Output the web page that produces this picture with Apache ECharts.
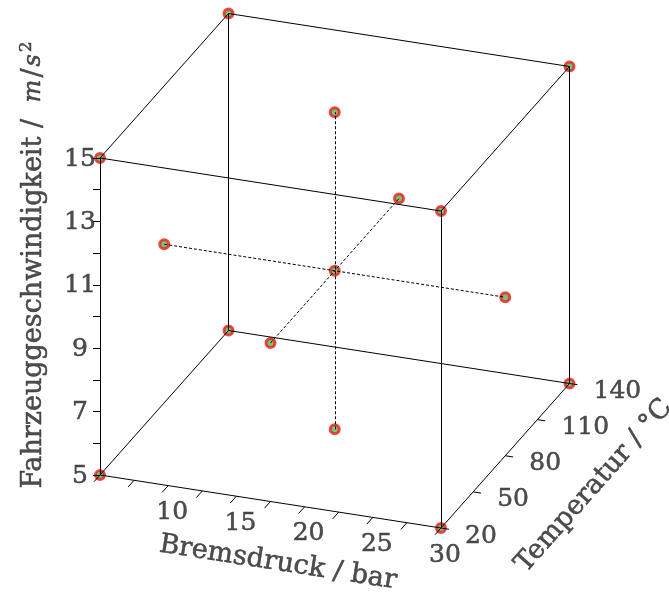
<!DOCTYPE html>
<html>
<head>
<meta charset="utf-8">
<script src="https://cdn.jsdelivr.net/npm/echarts@6/dist/echarts.min.js"></script>
<style>
  html, body { margin: 0; padding: 0; background: #fff; }
  #chart { width: 669px; height: 597px; }
</style>
</head>
<body>
<div id="chart"></div>
<script>
// Face-centred central composite design: brake pressure × temperature × acceleration
const pressureRange = [5, 30];        // Bremsdruck / bar
const temperatureRange = [20, 140];   // Temperatur / °C
const accelRange = [5, 15];           // Fahrzeuggeschwindigkeit / m/s²

const pressureTicks = [5, 7.5, 10, 12.5, 15, 17.5, 20, 22.5, 25, 27.5, 30];
const pressureLabels = [10, 15, 20, 25, 30];
const temperatureTicks = [20, 50, 80, 110, 140];
const temperatureLabels = [20, 50, 80, 110, 140];
const accelTicks = [5, 6, 7, 8, 9, 10, 11, 12, 13, 14, 15];
const accelLabels = [5, 7, 9, 11, 13, 15];

// design points [pressure, temperature, acceleration]
const cornerPoints = [
  [5, 20, 5], [30, 20, 5], [30, 140, 5], [5, 140, 5],
  [5, 20, 15], [30, 20, 15], [30, 140, 15], [5, 140, 15]
];
const axialPoints = [
  [5, 80, 10], [30, 80, 10],
  [17.5, 20, 10], [17.5, 140, 10],
  [17.5, 80, 5], [17.5, 80, 15]
];
const centerPoints = [[17.5, 80, 10]];

// ---- oblique projection of the 3-D box onto the page plane ----
const W = 669, H = 597;
const view = {
  origin: [100, 475],                 // screen position of (pmin, Tmin, amin)
  ep: [341 / 25, 53 / 25],            // screen step per bar
  eT: [128.5 / 120, -144.5 / 120],    // screen step per °C
  ea: [0, -317 / 10]                  // screen step per m/s²
};
function project(p) {
  const dp = p[0] - pressureRange[0];
  const dT = p[1] - temperatureRange[0];
  const da = p[2] - accelRange[0];
  return [
    view.origin[0] + dp * view.ep[0] + dT * view.eT[0] + da * view.ea[0],
    view.origin[1] + dp * view.ep[1] + dT * view.eT[1] + da * view.ea[1]
  ];
}
function unit(v) { const l = Math.hypot(v[0], v[1]); return [v[0] / l, v[1] / l]; }

// cube edges: pairs of corners that differ in exactly one coordinate
const edges = [];
for (let i = 0; i < cornerPoints.length; i++) {
  for (let j = i + 1; j < cornerPoints.length; j++) {
    const a = cornerPoints[i], b = cornerPoints[j];
    const diff = a.filter((v, k) => v !== b[k]).length;
    if (diff === 1) edges.push({ coords: [project(a), project(b)] });
  }
}
// dashed axial lines through the centre
const axialLines = [];
for (let i = 0; i < axialPoints.length; i += 2) {
  axialLines.push({ coords: [project(axialPoints[i]), project(axialPoints[i + 1])] });
}

// tick marks
const pDir = unit([-view.eT[0], -view.eT[1]]);
const tDir = unit(view.ep);
const ticks = [];
pressureTicks.forEach(v => {
  const s = project([v, temperatureRange[0], accelRange[0]]);
  ticks.push({ coords: [s, [s[0] + pDir[0] * 9, s[1] + pDir[1] * 9]] });
});
temperatureTicks.forEach(v => {
  const s = project([pressureRange[1], v, accelRange[0]]);
  ticks.push({ coords: [s, [s[0] + tDir[0] * 8, s[1] + tDir[1] * 8]] });
});
accelTicks.forEach(v => {
  const s = project([pressureRange[0], temperatureRange[0], v]);
  ticks.push({ coords: [s, [s[0] - 7, s[1]]] });
});

const allPoints = cornerPoints.concat(axialPoints, centerPoints).map(project);

const font = 'DejaVu Serif';
const textColor = '#222222';
const ink = { color: textColor, textBorderColor: textColor, textBorderWidth: 0.5 };
const tickFont = Object.assign({ fontFamily: font, fontSize: 25 }, ink);
const titleSize = 27;

function labelSeries(values, toPoint, label) {
  return {
    type: 'scatter', symbolSize: 1, silent: true, z: 5,
    itemStyle: { color: 'rgba(0,0,0,0)' },
    data: values.map(v => ({ value: toPoint(v), name: String(v) })),
    label: Object.assign({ show: true, position: 'inside', formatter: '{b}' }, tickFont, label)
  };
}

const chart = echarts.init(document.getElementById('chart'), null, { renderer: 'canvas' });
chart.setOption({
  backgroundColor: '#ffffff',
  animation: false,
  grid: { left: 0, top: 0, width: W, height: H },
  xAxis: { type: 'value', min: 0, max: W, show: false },
  yAxis: { type: 'value', min: 0, max: H, inverse: true, show: false },
  series: [
    {
      type: 'scatter', z: 2, symbol: 'circle', symbolSize: 9,
      itemStyle: { color: '#55b550', borderColor: '#ee1c1c', borderWidth: 3 },
      data: allPoints
    },
    {
      type: 'lines', coordinateSystem: 'cartesian2d', z: 3, silent: true,
      lineStyle: { color: '#000', width: 1, opacity: 1 },
      data: edges
    },
    {
      type: 'lines', coordinateSystem: 'cartesian2d', z: 3, silent: true,
      lineStyle: { color: '#000', width: 1, type: [3, 2], opacity: 1 },
      data: axialLines
    },
    {
      type: 'lines', coordinateSystem: 'cartesian2d', z: 3, silent: true,
      lineStyle: { color: '#000', width: 1, opacity: 1 },
      data: ticks
    },
    labelSeries(accelLabels,
      v => project([pressureRange[0], temperatureRange[0], v]),
      { offset: [-20, 1], align: 'center', verticalAlign: 'middle' }),
    labelSeries(pressureLabels,
      v => project([v, temperatureRange[0], accelRange[0]]),
      { offset: [4, 27], align: 'center', verticalAlign: 'middle' }),
    labelSeries(temperatureLabels,
      v => project([pressureRange[1], v, accelRange[0]]),
      { offset: [24, 8], align: 'left', verticalAlign: 'middle' }),
    // axis titles
    {
      type: 'scatter', symbolSize: 1, silent: true, z: 5,
      itemStyle: { color: 'rgba(0,0,0,0)' },
      data: [
        {
          value: [34, 265],
          label: {
            rotate: 90,
            formatter: '{r|Fahrzeuggeschwindigkeit /}{sp| }{i|m}{r|/}{i|s}{sup|2}',
            rich: {
              r: Object.assign({ fontFamily: font, fontSize: titleSize }, ink),
              sp: Object.assign({ fontFamily: font, fontSize: titleSize, padding: [0, 3, 0, 3] }, ink),
              i: Object.assign({ fontFamily: font, fontStyle: 'italic', fontSize: 24, padding: [0, 2, 0, 2] }, ink),
              sup: Object.assign({ fontFamily: font, fontSize: 17, padding: [0, 0, 14, 0] }, ink)
            }
          }
        },
        {
          value: [278, 563],
          label: Object.assign({ rotate: -8.84, formatter: 'Bremsdruck / bar', fontFamily: font, fontSize: titleSize }, ink)
        },
        {
          value: [594, 486],
          label: Object.assign({ rotate: 48.4, formatter: 'Temperatur / °C', fontFamily: font, fontSize: titleSize }, ink)
        }
      ],
      label: { show: true, position: 'inside', align: 'center', verticalAlign: 'middle' }
    }
  ]
});
</script>
</body>
</html>
